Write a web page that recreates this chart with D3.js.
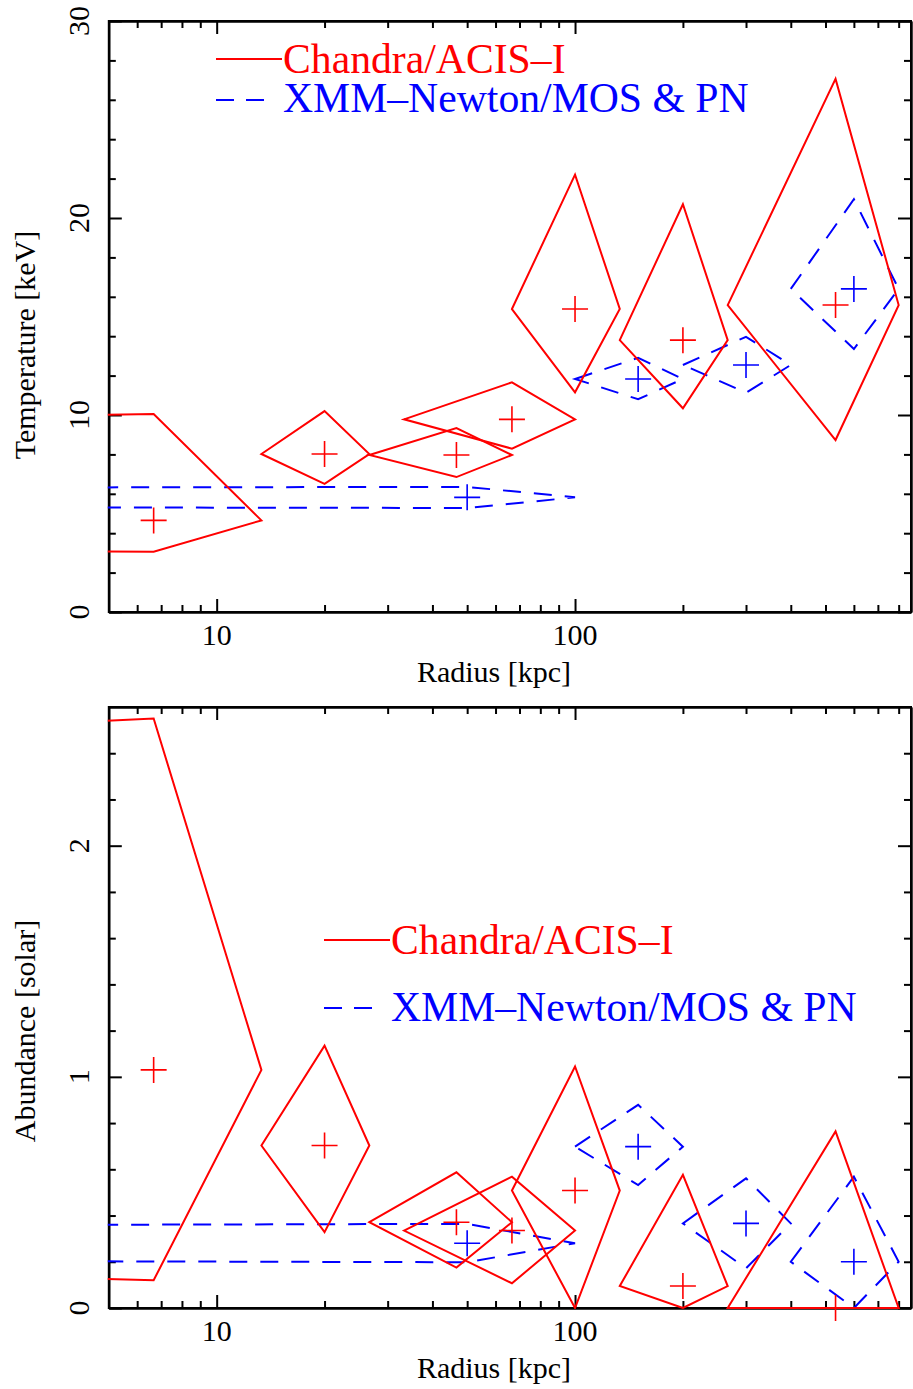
<!DOCTYPE html>
<html>
<head>
<meta charset="utf-8">
<script src="https://cdn.jsdelivr.net/npm/d3@7"></script>
<style>
  body { margin: 0; background: #fff; }
  svg text { font-family: "Liberation Serif", "Times New Roman", serif; }
  .axis path, .axis line { stroke: #000; stroke-width: 2; }
  .axis text { display: none; }
</style>
</head>
<body>
<div id="chart-area"></div>
<script>

// SVG Size
var width = 913,
    height = 1389;

// Radial bins (kpc): centre, inner and outer edge
var chandraR   = [6.67, 20, 46.67, 66.67, 100, 200, 533.3];
var chandraRLo = [0, 13.33, 26.67, 33.33, 66.67, 133.3, 266.7];
var chandraRHi = [13.33, 26.67, 66.67, 100, 133.3, 266.7, 800];

var xmmR   = [50, 150, 300, 600];
var xmmRLo = [0, 100, 200, 400];
var xmmRHi = [100, 200, 400, 800];

// Temperature (keV)
var chandraT   = [4.65, 8.02, 7.97, 9.78, 15.38, 13.8, 15.58];
var chandraTLo = [3.06, 6.5, 6.85, 8.29, 11.15, 10.34, 8.73];
var chandraTHi = [10.05, 10.2, 9.34, 11.66, 22.2, 20.7, 27.06];

var xmmT   = [5.82, 11.83, 12.54, 16.4];
var xmmTLo = [5.28, 10.8, 11.13, 13.35];
var xmmTHi = [6.35, 12.9, 13.97, 20.95];

// Abundance (solar)
var chandraZ   = [1.03, 0.703, 0.371, 0.335, 0.508, 0.095, 0.0];
var chandraZLo = [0.12, 0.328, 0.175, 0.107, 0.0, 0.0, 0.0];
var chandraZHi = [2.55, 1.135, 0.587, 0.568, 1.045, 0.576, 0.764];

var xmmZ   = [0.28, 0.698, 0.366, 0.2];
var xmmZLo = [0.198, 0.532, 0.172, 0.0];
var xmmZHi = [0.364, 0.879, 0.561, 0.568];

// Axis ticks
var xMajor = [10, 100];
var xMinor = [6, 7, 8, 9, 20, 30, 40, 50, 60, 70, 80, 90, 200, 300, 400, 500, 600, 700, 800];
var tMajor = [0, 10, 20, 30];
var tMinor = [2, 4, 6, 8, 12, 14, 16, 18, 22, 24, 26, 28];
var zMajor = [0, 1, 2];
var zMinor = [0.2, 0.4, 0.6, 0.8, 1.2, 1.4, 1.6, 1.8, 2.2, 2.4];

var legendLabels = ["Chandra/ACIS\u2013I", "XMM\u2013Newton/MOS & PN"];

// Build point records for one series
function points(r, rLo, rHi, v, lo, hi) {
  return r.map(function(d, i) {
    return { r: d, rLo: rLo[i], rHi: rHi[i], v: v[i], lo: lo[i], hi: hi[i] };
  });
}

var panels = [
  { id: "t", top: 21, bottom: 612, domain: [0, 30], major: tMajor, minor: tMinor,
    title: "Temperature [keV]", titleY: 345,
    chandra: points(chandraR, chandraRLo, chandraRHi, chandraT, chandraTLo, chandraTHi),
    xmm: points(xmmR, xmmRLo, xmmRHi, xmmT, xmmTLo, xmmTHi),
    legend: { x0: 216, x1: 282, y: [59, 100], base: [73, 112] } },
  { id: "z", top: 707, bottom: 1308, domain: [0, 2.6], major: zMajor, minor: zMinor,
    title: "Abundance [solar]", titleY: 1031,
    chandra: points(chandraR, chandraRLo, chandraRHi, chandraZ, chandraZLo, chandraZHi),
    xmm: points(xmmR, xmmRLo, xmmRHi, xmmZ, xmmZLo, xmmZHi),
    legend: { x0: 324, x1: 390, y: [940, 1008], base: [954, 1021] } }
];

var svg = d3.select("#chart-area").append("svg")
    .attr("width", width)
    .attr("height", height);

var left = 108.8, right = 911;

// X scale (log radius)
var x = d3.scaleLog()
  .domain([5, 866])
  .range([left, right]);

// zero inner radius -> far off to the left
function px(r) { return x(Math.max(r, 1e-20)); }

panels.forEach(function(p) {

  var y = d3.scaleLinear()
    .domain(p.domain)
    .range([p.bottom, p.top]);

  var g = svg.append("g");

  g.append("clipPath")
      .attr("id", "clip-" + p.id)
    .append("rect")
      .attr("x", left - 1)
      .attr("y", p.top - 1)
      .attr("width", right - left + 2)
      .attr("height", p.bottom - p.top + 2);

  // Axes first, ticks pointing inward on all four sides
  var axes = [
    [d3.axisBottom(x).tickValues(xMajor).tickSize(-13), "translate(0," + p.bottom + ")"],
    [d3.axisBottom(x).tickValues(xMinor).tickSize(-7), "translate(0," + p.bottom + ")"],
    [d3.axisTop(x).tickValues(xMajor).tickSize(-13), "translate(0," + p.top + ")"],
    [d3.axisTop(x).tickValues(xMinor).tickSize(-7), "translate(0," + p.top + ")"],
    [d3.axisLeft(y).tickValues(p.major).tickSize(-13), "translate(" + left + ",0)"],
    [d3.axisLeft(y).tickValues(p.minor).tickSize(-7), "translate(" + left + ",0)"],
    [d3.axisRight(y).tickValues(p.major).tickSize(-13), "translate(" + right + ",0)"],
    [d3.axisRight(y).tickValues(p.minor).tickSize(-7), "translate(" + right + ",0)"]
  ];
  axes.forEach(function(a) {
    g.append("g")
      .attr("class", "axis")
      .attr("transform", a[1])
      .call(a[0].tickSizeOuter(0));
  });

  g.append("rect")
    .attr("x", left)
    .attr("y", p.top)
    .attr("width", right - left)
    .attr("height", p.bottom - p.top)
    .attr("fill", "none")
    .attr("stroke", "#000")
    .attr("stroke-width", 2);

  // Diamonds: inner edge, upper error, outer edge, lower error
  var diamond = function(d) {
    return "M" + px(d.rLo) + "," + y(d.v) +
           "L" + x(d.r) + "," + y(d.hi) +
           "L" + x(d.rHi) + "," + y(d.v) +
           "L" + x(d.r) + "," + y(d.lo) + "Z";
  };

  var cross = function(d) {
    var cx = x(d.r), cy = y(d.v);
    return "M" + (cx - 13) + "," + cy + "h26M" + cx + "," + (cy - 13) + "v26";
  };

  var plot = g.append("g").attr("clip-path", "url(#clip-" + p.id + ")");

  plot.selectAll(".xmm-box")
    .data(p.xmm)
    .enter()
    .append("path")
    .attr("class", "xmm-box")
    .attr("d", diamond)
    .attr("fill", "none")
    .attr("stroke", "#0000ff")
    .attr("stroke-width", 2)
    .attr("stroke-dasharray", "18,13");

  plot.selectAll(".chandra-box")
    .data(p.chandra)
    .enter()
    .append("path")
    .attr("class", "chandra-box")
    .attr("d", diamond)
    .attr("fill", "none")
    .attr("stroke", "#ff0000")
    .attr("stroke-width", 2);

  g.selectAll(".xmm-cross")
    .data(p.xmm)
    .enter()
    .append("path")
    .attr("class", "xmm-cross")
    .attr("d", cross)
    .attr("stroke", "#0000ff")
    .attr("stroke-width", 1.6);

  g.selectAll(".chandra-cross")
    .data(p.chandra)
    .enter()
    .append("path")
    .attr("class", "chandra-cross")
    .attr("d", cross)
    .attr("stroke", "#ff0000")
    .attr("stroke-width", 1.6);

  // Tick labels
  g.selectAll(".xlab")
    .data(xMajor)
    .enter()
    .append("text")
    .attr("class", "xlab")
    .attr("x", function(d) { return x(d); })
    .attr("y", p.bottom + 33)
    .attr("text-anchor", "middle")
    .attr("font-size", 30)
    .text(function(d) { return d; });

  g.selectAll(".ylab")
    .data(p.major)
    .enter()
    .append("text")
    .attr("class", "ylab")
    .attr("transform", function(d) { return "translate(89," + y(d) + ") rotate(-90)"; })
    .attr("text-anchor", "middle")
    .attr("font-size", 30)
    .text(function(d) { return d; });

  // Axis titles
  g.append("text")
    .attr("x", 494)
    .attr("y", p.bottom + 70)
    .attr("text-anchor", "middle")
    .attr("font-size", 30)
    .text("Radius [kpc]");

  g.append("text")
    .attr("transform", "translate(35," + p.titleY + ") rotate(-90)")
    .attr("text-anchor", "middle")
    .attr("font-size", 30)
    .text(p.title);

  // Legend
  var L = p.legend;
  g.append("line")
    .attr("x1", L.x0).attr("x2", L.x1)
    .attr("y1", L.y[0]).attr("y2", L.y[0])
    .attr("stroke", "#ff0000")
    .attr("stroke-width", 2);
  g.append("line")
    .attr("x1", L.x0).attr("x2", L.x0 + 48)
    .attr("y1", L.y[1]).attr("y2", L.y[1])
    .attr("stroke", "#0000ff")
    .attr("stroke-width", 2)
    .attr("stroke-dasharray", "18,12");

  g.selectAll(".legend-text")
    .data(legendLabels)
    .enter()
    .append("text")
    .attr("class", "legend-text")
    .attr("x", L.x1 + 1)
    .attr("y", function(d, i) { return L.base[i]; })
    .attr("font-size", 41.7)
    .attr("fill", function(d, i) { return i === 0 ? "#ff0000" : "#0000ff"; })
    .text(function(d) { return d; });
});

</script>
</body>
</html>
